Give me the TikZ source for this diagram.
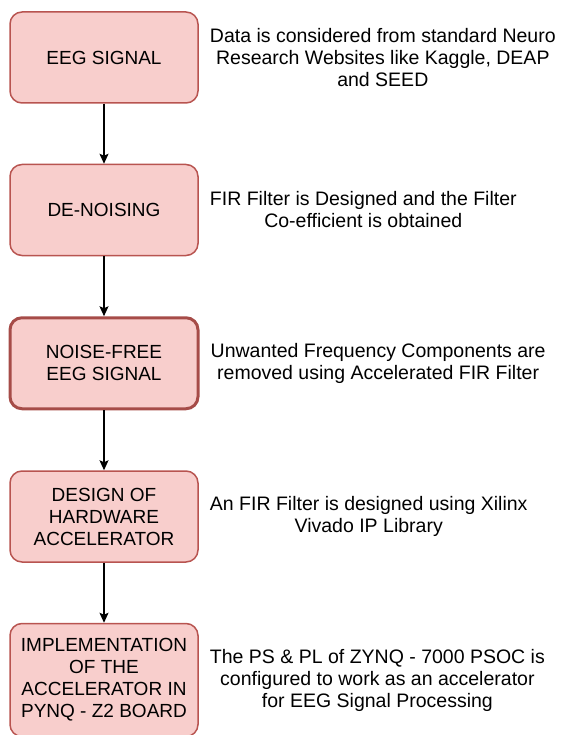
\documentclass[tikz,border=0pt]{standalone}
\usepackage{fontspec}
\setmainfont{Liberation Sans}
\usetikzlibrary{
  arrows.meta,
  positioning,
}
\definecolor{boxfill}{RGB}{248, 206, 204}
\definecolor{boxline}{RGB}{184, 84, 80}
\tikzstyle{arrow} = [
  -{Stealth[length=10pt,width=9pt,inset=2pt]},
  line width=1.3pt,
  black,
]
\tikzstyle{block} = [
  draw=boxline,
  fill=boxfill,
  rounded corners=12pt,
  line width=1.5pt,
  minimum width=188pt,
  minimum height=91pt,
  align=center,
  font=\fontsize{19}{22}\selectfont,
]
\tikzstyle{note} = [
  align=center,
  inner sep=0pt,
  font=\fontsize{19.5}{22}\selectfont,
]

\begin{document}
\begin{tikzpicture}[node distance=60pt and 11pt]
        \useasboundingbox (0,0) rectangle (563pt,-735pt);

        \node[block]    (s0)  at (104pt,-57.5pt)    {EEG SIGNAL};
        \node[block]    (s1)  [below=of s0]    {DE-NOISING};
        \node[block,line width=3pt,draw=boxline!90!black]    (s2)  [below=of s1]    {NOISE-FREE\\EEG SIGNAL};
        \node[block]    (s3)  [below=of s2]    {DESIGN OF\\HARDWARE\\ACCELERATOR};
        \node[block,minimum height=113pt]    (s4)  [below=of s3]    {IMPLEMENTATION\\OF THE\\ACCELERATOR IN\\PYNQ - Z2 BOARD};

        \node[note]    (n0)  [right=of s0]    {Data is considered from standard Neuro\\Research Websites like Kaggle, DEAP\\and SEED};
        \node[note]    (n1)  [right=of s1]    {FIR Filter is Designed and the Filter\\Co-efficient is obtained};
        \node[note]    (n2)  [right=of s2]    {Unwanted Frequency Components are\\removed using Accelerated FIR Filter};
        \node[note]    (n3)  [right=of s3]    {An FIR Filter is designed using Xilinx\\Vivado IP Library};
        \node[note]    (n4)  [right=of s4]    {The PS \& PL of ZYNQ - 7000 PSOC is\\configured to work as an accelerator\\for EEG Signal Processing};

        \draw[arrow] (s0) -- (s1);
        \draw[arrow] (s1) -- (s2);
        \draw[arrow] (s2) -- (s3);
        \draw[arrow] (s3) -- (s4);
    \end{tikzpicture}
\end{document}
